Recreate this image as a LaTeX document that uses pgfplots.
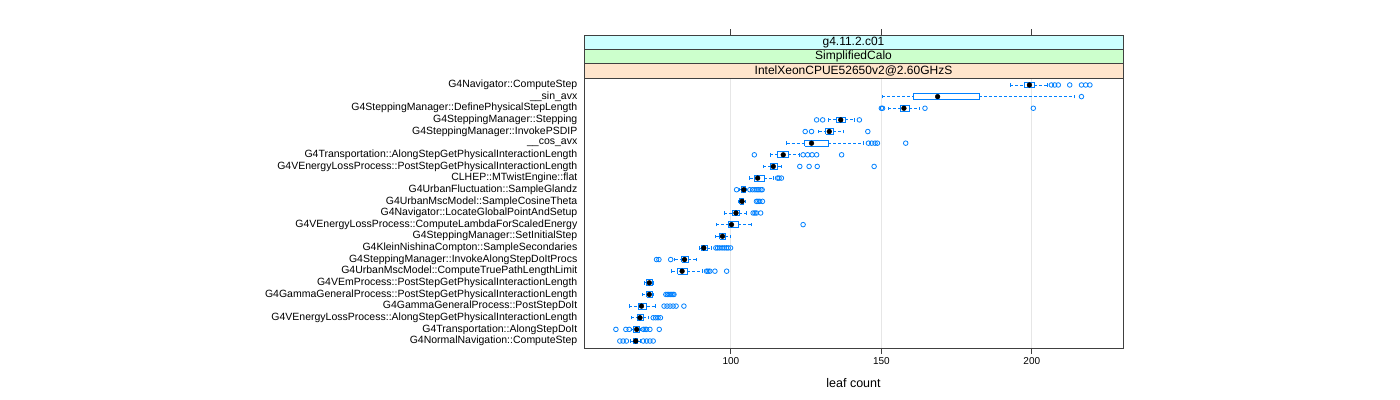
\documentclass[border=0pt]{standalone}
\usepackage{pgfplots}
\pgfplotsset{compat=1.18}
\usepackage{fontspec}
\setmainfont{Liberation Sans}
\definecolor{bwblue}{HTML}{0080FF}
\definecolor{stripA}{HTML}{CCFFFF}
\definecolor{stripB}{HTML}{CCFFCC}
\definecolor{stripC}{HTML}{FFE5CC}
\definecolor{gridc}{HTML}{E6E6E6}
\pgfplotsset{
  bwline/.style={draw=bwblue, line width=0.8bp, no marks},
}
% #1 position, #2 lower whisker, #3 lower quartile, #4 median, #5 upper quartile, #6 upper whisker
\newcommand{\bw}[6]{%
  \pgfmathsetmacro{\ylo}{#1-0.25}\pgfmathsetmacro{\yhi}{#1+0.25}%
  \pgfmathsetmacro{\clo}{#1-0.15}\pgfmathsetmacro{\chi}{#1+0.15}%
  \addplot[bwline, dash pattern=on 3bp off 2bp] coordinates {(#2,#1) (#3,#1)};
  \addplot[bwline, dash pattern=on 3bp off 2bp] coordinates {(#5,#1) (#6,#1)};
  \addplot[bwline] coordinates {(#2,\clo) (#2,\chi)};
  \addplot[bwline] coordinates {(#6,\clo) (#6,\chi)};
  \addplot[bwline, line width=0.9bp] coordinates {(#3,\ylo) (#5,\ylo) (#5,\yhi) (#3,\yhi) (#3,\ylo)};
  \addplot[only marks, mark=*, mark size=2.4bp, black] coordinates {(#4,#1)};
}
\begin{document}
\begin{tikzpicture}
\path[use as bounding box] (0,0) rectangle (1400bp,400bp);
\begin{axis}[
  at={(584bp,52bp)}, anchor=south west,
  width=539bp, height=270bp, scale only axis,
  xmin=51.2, xmax=230.3, ymin=0.4, ymax=23.6,
  xtick={100,150,200}, xtick pos=left, tick align=outside, major tick length=5.5bp,
  ytick={1,...,23}, ytick style={draw=none},
  yticklabels={G4NormalNavigation::ComputeStep,
    G4Transportation::AlongStepDoIt,
    G4VEnergyLossProcess::AlongStepGetPhysicalInteractionLength,
    G4GammaGeneralProcess::PostStepDoIt,
    G4GammaGeneralProcess::PostStepGetPhysicalInteractionLength,
    G4VEmProcess::PostStepGetPhysicalInteractionLength,
    G4UrbanMscModel::ComputeTruePathLengthLimit,
    G4SteppingManager::InvokeAlongStepDoItProcs,
    G4KleinNishinaCompton::SampleSecondaries,
    G4SteppingManager::SetInitialStep,
    G4VEnergyLossProcess::ComputeLambdaForScaledEnergy,
    G4Navigator::LocateGlobalPointAndSetup,
    G4UrbanMscModel::SampleCosineTheta,
    G4UrbanFluctuation::SampleGlandz,
    CLHEP::MTwistEngine::flat,
    G4VEnergyLossProcess::PostStepGetPhysicalInteractionLength,
    G4Transportation::AlongStepGetPhysicalInteractionLength,
    \_\_cos\_avx,
    G4SteppingManager::InvokePSDIP,
    G4SteppingManager::Stepping,
    G4SteppingManager::DefinePhysicalStepLength,
    \_\_sin\_avx,
    G4Navigator::ComputeStep},
  yticklabel style={font=\fontsize{10.5bp}{12bp}\selectfont, inner sep=1bp},
  xticklabel style={font=\fontsize{10bp}{12bp}\selectfont},
  /pgf/number format/assume math mode=true,
  xmajorgrids, grid style={gridc, line width=0.8bp},
  axis line style={line width=0.8bp, black!75},
  tick style={black!75, line width=0.8bp},
  xlabel={leaf count},
  xlabel style={font=\fontsize{12.5bp}{14bp}\selectfont, at={(axis description cs:0.5,0)}, anchor=center, yshift=-35bp},
  clip=false,
]
\bw{23}{192.8}{197.5}{199.2}{200.8}{205.3}
\bw{22}{150.3}{160.6}{168.7}{182.6}{214.0}
\bw{21}{152.3}{156.2}{157.5}{159.3}{162.8}
\bw{20}{132.4}{135.1}{136.5}{138.0}{141.0}
\bw{19}{129.2}{131.5}{132.7}{134.1}{137.3}
\bw{18}{118.5}{124.6}{126.8}{132.4}{144.0}
\bw{17}{113.0}{115.5}{117.4}{119.1}{122.9}
\bw{16}{110.8}{113.0}{114.1}{115.5}{116.8}
\bw{15}{106.3}{107.7}{108.9}{111.1}{114.1}
\bw{14}{103.0}{103.5}{104.3}{104.9}{105.2}
\bw{13}{102.4}{103.0}{103.7}{104.3}{104.7}
\bw{12}{97.7}{100.6}{101.7}{102.8}{105.2}
\bw{11}{95.2}{99.3}{100.2}{102.4}{106.9}
\bw{10}{95.0}{96.3}{97.2}{98.2}{99.9}
\bw{9}{89.5}{90.3}{91.0}{92.2}{93.6}
\bw{8}{81.4}{83.6}{84.6}{85.9}{88.4}
\bw{7}{80.3}{82.3}{83.8}{85.5}{90.6}
\bw{6}{71.3}{72.0}{72.9}{73.8}{74.3}
\bw{5}{70.5}{72.0}{72.9}{74.0}{74.3}
\bw{4}{66.2}{69.2}{70.3}{72.0}{75.0}
\bw{3}{66.8}{68.9}{69.8}{70.9}{72.5}
\bw{2}{67.1}{67.6}{68.7}{69.6}{70.1}
\bw{1}{66.7}{67.6}{68.4}{68.9}{69.8}
\addplot[only marks, mark=o, mark size=2.3bp, bwblue, mark options={line width=0.8bp}] coordinates {
 (206.5,23) (207.6,23) (208.8,23) (212.6,23) (216.5,23) (217.9,23) (219.3,23)
 (216.5,22)
 (150.0,21) (150.4,21) (164.5,21) (200.5,21)
 (128.5,20) (130.5,20) (142.7,20)
 (124.7,19) (126.8,19) (145.5,19)
 (145.7,18) (146.8,18) (147.9,18) (148.7,18) (158.1,18)
 (107.8,17) (124.0,17) (125.5,17) (127.0,17) (128.5,17) (136.8,17)
 (122.9,16) (126.0,16) (128.7,16) (147.6,16)
 (115.5,15) (116.0,15) (116.8,15)
 (101.9,14) (106.3,14) (107.2,14) (108.0,14) (108.7,14) (109.3,14) (110.0,14) (110.4,14)
 (108.5,13) (109.0,13) (109.6,13) (110.5,13)
 (107.4,12) (108.0,12) (108.5,12) (109.9,12)
 (124.0,11)
 (95.0,9) (95.6,9) (96.3,9) (97.1,9) (97.8,9) (98.5,9) (99.1,9) (99.9,9)
 (75.3,8) (76.1,8) (80.0,8)
 (91.9,7) (92.4,7) (93.0,7) (94.7,7) (98.6,7)
 (78.4,5) (78.9,5) (79.4,5) (79.9,5) (80.4,5) (80.8,5) (81.1,5)
 (77.8,4) (78.8,4) (79.8,4) (80.8,4) (81.8,4) (84.4,4)
 (74.2,3) (75.0,3) (75.8,3) (76.6,3)
 (61.8,2) (65.1,2) (66.2,2) (70.9,2) (71.5,2) (72.0,2) (73.1,2) (76.2,2)
 (63.1,1) (64.2,1) (65.3,1) (70.9,1) (72.0,1) (73.1,1) (74.2,1)
};
\end{axis}
\begin{axis}[
  at={(584bp,322bp)}, anchor=south west,
  width=539bp, height=43bp, scale only axis,
  xmin=51.2, xmax=230.3, ymin=0, ymax=3,
  xtick={100,150,200}, xticklabels={}, xtick pos=right, ytick=\empty,
  tick align=outside, major tick length=5.5bp,
  axis line style={line width=0.8bp, black!75},
  tick style={black!75, line width=0.8bp},
  axis on top,
]
\fill[stripC] (rel axis cs:0,0) rectangle (rel axis cs:1,1/3);
\fill[stripB] (rel axis cs:0,1/3) rectangle (rel axis cs:1,2/3);
\fill[stripA] (rel axis cs:0,2/3) rectangle (rel axis cs:1,1);
\draw[black!75, line width=0.8bp] (rel axis cs:0,1/3) -- (rel axis cs:1,1/3);
\draw[black!75, line width=0.8bp] (rel axis cs:0,2/3) -- (rel axis cs:1,2/3);
\node[font=\fontsize{12bp}{14bp}\selectfont] at (rel axis cs:0.5,1/6) {IntelXeonCPUE52650v2@2.60GHzS};
\node[font=\fontsize{12bp}{14bp}\selectfont] at (rel axis cs:0.5,1/2) {SimplifiedCalo};
\node[font=\fontsize{12bp}{14bp}\selectfont] at (rel axis cs:0.5,5/6) {g4.11.2.c01};
\end{axis}
\end{tikzpicture}
\end{document}
